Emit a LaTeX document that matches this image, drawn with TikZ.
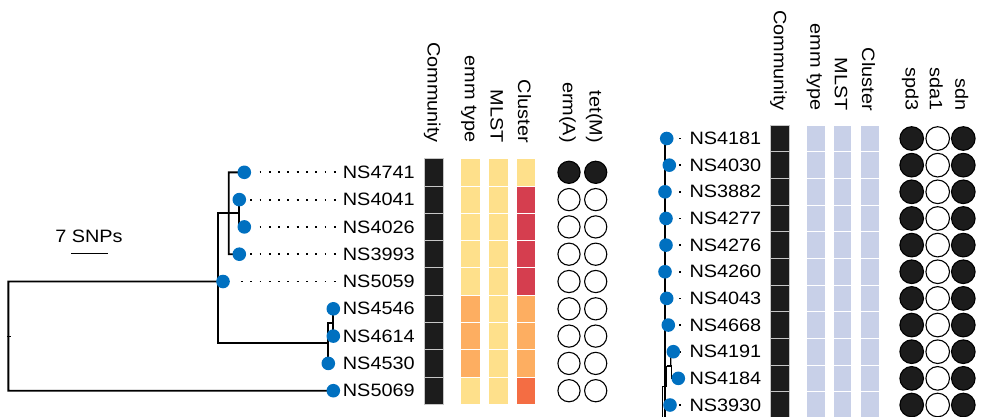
\documentclass[tikz,border=0pt]{standalone}
\usepackage{fontspec}
\setmainfont{Liberation Sans}
\usepackage{graphicx}
\usetikzlibrary{backgrounds}
\definecolor{tipblue}{RGB}{0,112,192}
\definecolor{blk}{RGB}{28,28,28}
\definecolor{yel}{RGB}{254,224,139}
\definecolor{ora}{RGB}{253,174,97}
\definecolor{red1}{RGB}{213,62,79}
\definecolor{dor}{RGB}{244,109,67}
\definecolor{lav}{RGB}{200,208,232}
\newcommand\lfont{\fontsize{17.9}{20}\selectfont}
\newcommand\wide[1]{\scalebox{1.11}[1]{#1}}
\tikzset{
  tip/.style={circle, fill=tipblue, inner sep=0pt, minimum size=13.6pt},
  lab/.style={anchor=west, inner sep=0pt, font=\lfont},
  hdr/.style={rotate=-90, anchor=east, inner sep=0pt, font=\lfont},
  br/.style={line width=1.9pt, line cap=rect},
  dotline/.style={line width=1.8pt, dash pattern=on 1.8pt off 7.5pt, black},
  cellL/.style={rectangle, inner sep=0pt, minimum width=19.5pt, minimum height=27.3pt, draw=white, line width=0.9pt},
  cellR/.style={rectangle, inner sep=0pt, minimum width=18.5pt, minimum height=26.65pt, draw=white, line width=0.9pt},
  comm/.style={fill=blk, draw=gray!45},
  geneL/.style={circle, draw=black, line width=1.1pt, inner sep=0pt, minimum size=22.2pt},
  geneR/.style={circle, draw=black, line width=1.1pt, inner sep=0pt, minimum size=23.6pt},
}
\begin{document}
\begin{tikzpicture}[x=1pt,y=-1pt]
\useasboundingbox (0,0) rectangle (985,416);

% ---------------- left panel ----------------
\foreach \nm/\cx [count=\i from 0] in {NS4741/244.3,NS4041/239.3,NS4026/244.3,NS3993/239.3,NS5059/223,NS4546/333.3,NS4614/333.3,NS4530/328.3,NS5069/333.3}{
  \pgfmathsetmacro\yy{172.3+27.3*\i}
  \node[tip] (lc\i) at (\cx,\yy) {};
  \node[lab] (lt\i) at (342.7,\yy) {\wide{\nm}};
}
% cells
\foreach \e/\m/\c/\g/\h [count=\i from 0] in {yel/yel/yel/blk/blk,yel/yel/red1/white/white,yel/yel/red1/white/white,yel/yel/red1/white/white,yel/yel/red1/white/white,ora/yel/ora/white/white,ora/yel/ora/white/white,ora/yel/ora/white/white,yel/yel/dor/white/white}{
  \pgfmathsetmacro\yy{172.3+27.3*\i}
  \node[cellL,comm] (lk\i) at (433.7,\yy) {};
  \node[cellL,fill=\e] (le\i) at (470.3,\yy) {};
  \node[cellL,fill=\m] (lm\i) at (498.3,\yy) {};
  \node[cellL,fill=\c] (lq\i) at (526,\yy) {};
  \node[geneL,fill=\g] (lg\i) at (569,\yy) {};
  \node[geneL,fill=\h] (lh\i) at (595.7,\yy) {};
}
% headers
\node[hdr] (hl1) at (432.2,143) {\wide{Community}};
\node[hdr] (hl2) at (468.8,143) {\wide{emm type}};
\node[hdr] (hl3) at (496.8,143) {\wide{MLST}};
\node[hdr] (hl4) at (524.5,143) {\wide{Cluster}};
\node[hdr] (hl5) at (567.5,143) {\wide{erm(A)}};
\node[hdr] (hl6) at (594.2,143) {\wide{tet(M)}};

% scale bar
\node[font=\lfont, inner sep=0pt] (snp) at (89,236) {\wide{7 SNPs}};
\coordinate (sb1) at (71,253.5);
\coordinate (sb2) at (107.7,253.5);

\begin{pgfonlayer}{background}
  \draw[line width=1.9pt] (sb1) -- (sb2);
  % tree
  \coordinate (rT) at (8.3,281.5);
  \coordinate (rB) at (8.3,390.7);
  \draw[br] (lc4.center) -- (rT) -- (rB) -- (lc8.center);
  \coordinate (rk1) at (7,336);
  \coordinate (rk2) at (10.5,336);
  \draw[line width=1pt] (rk1) -- (rk2);
  \coordinate (aT) at (218,212.7);
  \coordinate (aB) at (218,342.7);
  \draw[br] (aT) -- (aB);
  \coordinate (cM) at (239.3,212.7);
  \draw[br] (aT) -- (cM);
  \draw[br] (lc1.center) |- (lc2.center);
  \coordinate (bT) at (228.7,172.3);
  \coordinate (bB) at (228.7,254.2);
  \draw[br] (lc0.center) -- (bT) -- (bB) -- (lc3.center);
  \coordinate (dB) at (328.3,342.7);
  \coordinate (dT) at (328.3,323.3);
  \coordinate (eM) at (333.3,323.3);
  \draw[br] (aB) -- (dB);
  \draw[br] (dT) -- (lc7.center);
  \draw[br] (dT) -- (eM);
  \draw[br] (lc5.center) -- (lc6.center);
  % dotted leaders
  \draw[dotline, shorten <=15.2pt, shorten >=6.5pt] (lc0.center) -- (lt0.west);
  \draw[dotline, shorten <=10.9pt, shorten >=6.5pt] (lc1.center) -- (lt1.west);
  \draw[dotline, shorten <=15.2pt, shorten >=6.5pt] (lc2.center) -- (lt2.west);
  \draw[dotline, shorten <=10.9pt, shorten >=6.5pt] (lc3.center) -- (lt3.west);
  \draw[dotline, shorten <=17.9pt, shorten >=6.5pt] (lc4.center) -- (lt4.west);
\end{pgfonlayer}

% ---------------- right panel ----------------
\foreach \nm/\cx [count=\i from 0] in {NS4181/666.7,NS4030/669.3,NS3882/665,NS4277/666,NS4276/666,NS4260/665,NS4043/666.7,NS4668/668.3,NS4191/673.3,NS4184/678.3,NS3930/670}{
  \pgfmathsetmacro\yy{138.5+26.65*\i}
  \node[tip] (rc\i) at (\cx,\yy) {};
  \node[lab] (rt\i) at (689.3,\yy) {\wide{\nm}};
  \pgfmathsetmacro\sh{679.3-\cx}
  \begin{pgfonlayer}{background}
    \draw[dotline, shorten <=\sh pt, shorten >=8.2pt] (rc\i.center) -- (rt\i.west);
  \end{pgfonlayer}
  \node[cellR,comm] (rk\i) at (780,\yy) {};
  \node[cellR,fill=lav] (re\i) at (815.8,\yy) {};
  \node[cellR,fill=lav] (rm\i) at (842.5,\yy) {};
  \node[cellR,fill=lav] (rq\i) at (870,\yy) {};
  \node[geneR,fill=blk] (rs\i) at (911.7,\yy) {};
  \node[geneR,fill=white] (ra\i) at (937.7,\yy) {};
  \node[geneR,fill=blk] (rd\i) at (963.3,\yy) {};
}
\node[hdr] (hr1) at (778.5,111) {\wide{Community}};
\node[hdr] (hr2) at (814.3,111) {\wide{emm type}};
\node[hdr] (hr3) at (841,111) {\wide{MLST}};
\node[hdr] (hr4) at (868.5,111) {\wide{Cluster}};
\node[hdr] (hr5) at (910.2,111) {\wide{spd3}};
\node[hdr] (hr6) at (936.2,111) {\wide{sda1}};
\node[hdr] (hr7) at (961.8,111) {\wide{sdn}};

\begin{pgfonlayer}{background}
  \coordinate (mT) at (665,138.5);
  \coordinate (mB) at (665,418);
  \draw[br] (mT) -- (mB);
  \coordinate (s1) at (670.7,351.7);
  \coordinate (s2) at (670.7,366);
  \coordinate (s3) at (666.7,366);
  \coordinate (s4) at (671.7,366);
  \coordinate (s5) at (666.7,386.7);
  \coordinate (s6) at (662.7,386.7);
  \coordinate (s7) at (662.7,418);
  \draw[line width=1.4pt] (rc8.center) -- (s1) -- (s2);
  \draw[line width=1.4pt] (s3) -- (s4);
  \draw[line width=1.4pt] (s4) |- (rc9.center);
  \draw[line width=1.4pt] (s3) -- (s5) -- (s6) -- (s7);
\end{pgfonlayer}
\end{tikzpicture}
\end{document}
